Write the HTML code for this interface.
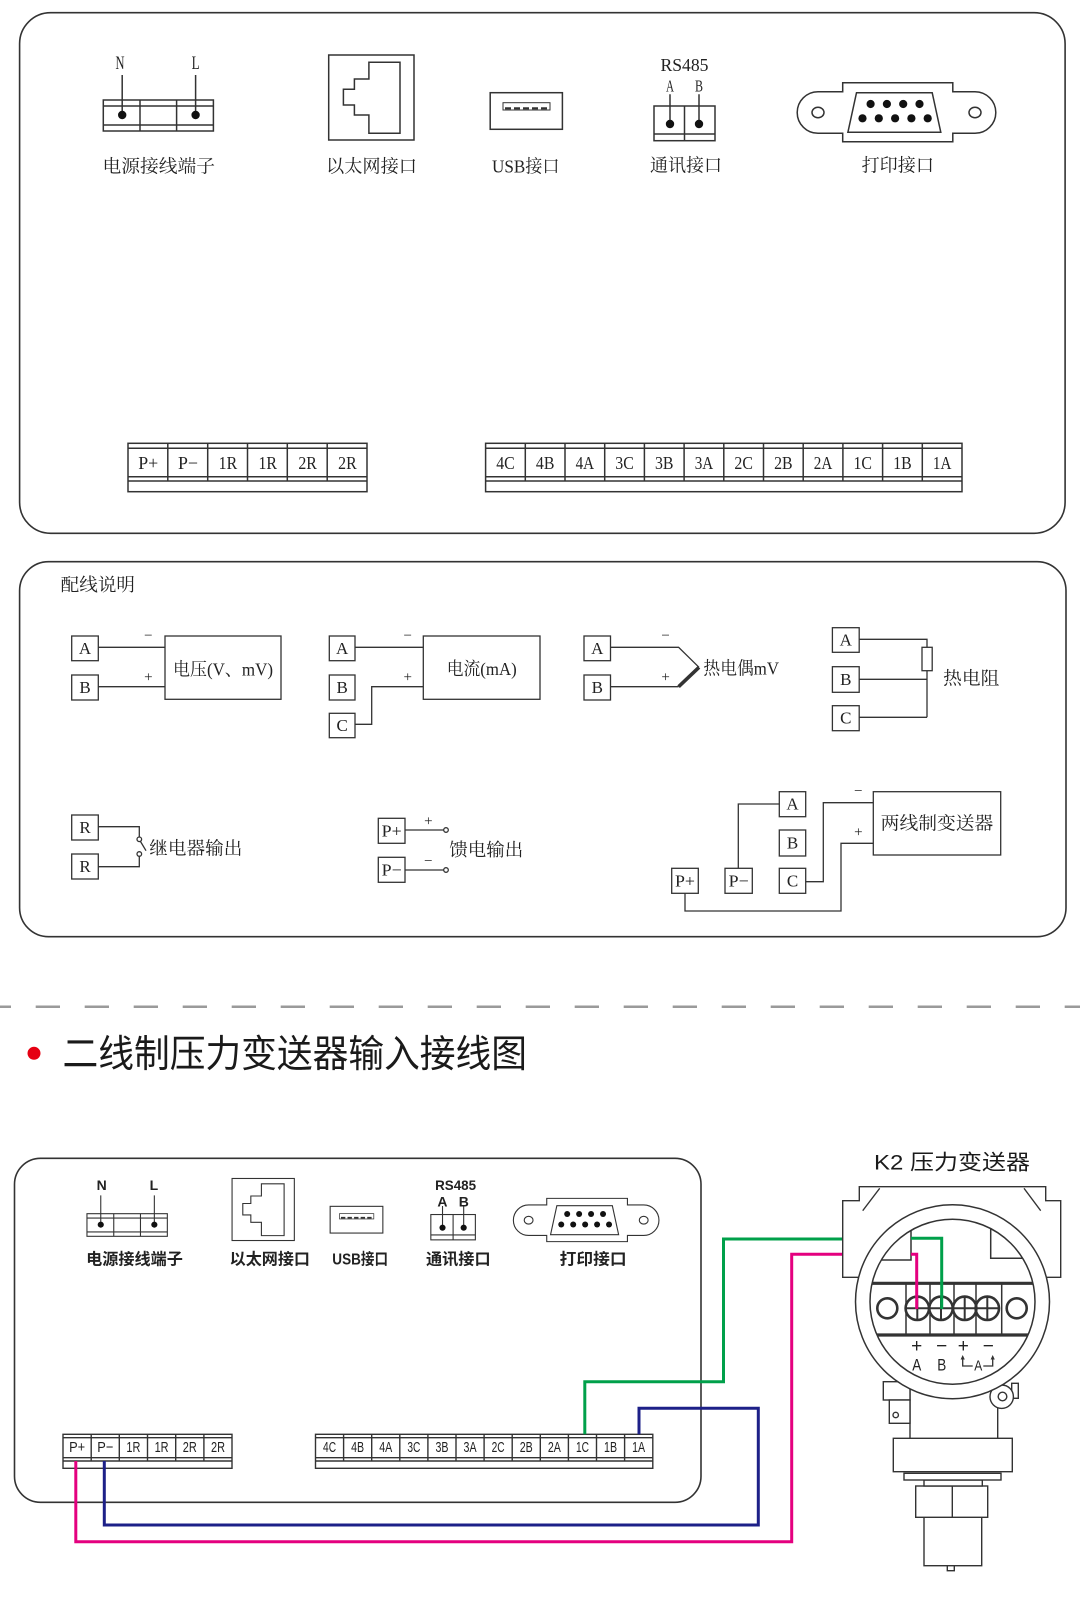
<!DOCTYPE html>
<html><head><meta charset="utf-8">
<style>
html,body{margin:0;padding:0;background:#fff;}
svg{display:block;}
.s{font-family:"Liberation Serif","Noto Serif CJK SC",serif;fill:#222;}
.a{font-family:"Liberation Sans Narrow","Liberation Sans","Noto Sans CJK SC",sans-serif;fill:#222;}
.h{font-family:"Liberation Sans","Noto Sans CJK SC",sans-serif;fill:#1a1a1a;}
</style></head><body>
<svg width="1080" height="1597" viewBox="0 0 1080 1597" xmlns="http://www.w3.org/2000/svg">
<defs>
<g id="pw" fill="none" stroke="#333" stroke-width="1.5">
 <rect x="103.3" y="100" width="110.1" height="31"/>
 <path d="M103.3 106H213.4M103.3 125H213.4M140 100V131M176.6 100V131M122.2 75V115M195.6 75V115"/>
 <circle cx="122.2" cy="115" r="4.2" fill="#111" stroke="none"/>
 <circle cx="195.6" cy="115" r="4.2" fill="#111" stroke="none"/>
</g>
<g id="eth" fill="none" stroke="#333" stroke-width="1.5">
 <rect x="328.7" y="55" width="85.3" height="85"/>
 <path d="M368.9 62.3H400V133.3H368.9V115H354.4V105H343.4V89.3H354.4V79H368.9Z"/>
</g>
<g id="usb" fill="none" stroke="#333" stroke-width="1.5">
 <rect x="490.2" y="92.7" width="72.2" height="36.6"/>
 <rect x="503" y="102.7" width="47" height="7.3" stroke-width="1"/>
 <path d="M505 108.3H548" stroke-width="2.2" stroke-dasharray="6 3"/>
</g>
<g id="rs" fill="none" stroke="#333" stroke-width="1.5">
 <rect x="654" y="106" width="61" height="34.7"/>
 <path d="M654 134H715M684.5 106V140.7M670 94.3V124M699 94.3V124"/>
 <circle cx="670" cy="124" r="4.2" fill="#111" stroke="none"/>
 <circle cx="699" cy="124" r="4.2" fill="#111" stroke="none"/>
</g>
<g id="db9" fill="none" stroke="#333" stroke-width="1.5">
 <path d="M842.7 82.7H952.8V91.7H975A20.8 20.8 0 0 1 975 133.3H952.8V141.7H842.7V133.3H818A20.8 20.8 0 0 1 818 91.7H842.7Z"/>
 <ellipse cx="818" cy="112.5" rx="6" ry="5.3"/>
 <ellipse cx="975" cy="112.5" rx="6" ry="5.3"/>
 <path d="M856.5 92.7H932.2L940.8 132.3H847.9Z"/>
 <g fill="#111" stroke="none">
  <circle cx="870.6" cy="104" r="4.1"/><circle cx="886.9" cy="104" r="4.1"/><circle cx="903.2" cy="104" r="4.1"/><circle cx="919.5" cy="104" r="4.1"/>
  <circle cx="862.5" cy="118.3" r="4.1"/><circle cx="878.8" cy="118.3" r="4.1"/><circle cx="895.1" cy="118.3" r="4.1"/><circle cx="911.4" cy="118.3" r="4.1"/><circle cx="927.7" cy="118.3" r="4.1"/>
 </g>
</g>
<clipPath id="ic"><circle cx="952.5" cy="1301.7" r="82.5"/></clipPath>
</defs>

<!-- ===== Box 1 ===== -->
<rect x="19.6" y="12.7" width="1045.5" height="520.6" rx="31" fill="none" stroke="#333" stroke-width="1.6"/>
<use href="#pw"/>
<use href="#eth"/>
<use href="#usb"/>
<use href="#rs"/>
<use href="#db9"/>
<g class="s" font-size="19" text-anchor="middle" dominant-baseline="central">
 <text x="120" y="63.3" textLength="9" lengthAdjust="spacingAndGlyphs">N</text>
 <text x="195.6" y="63.3" textLength="8" lengthAdjust="spacingAndGlyphs">L</text>
 <text x="684.5" y="65" font-size="18" textLength="48" lengthAdjust="spacingAndGlyphs">RS485</text>
 <text x="670" y="86" font-size="17" textLength="8" lengthAdjust="spacingAndGlyphs">A</text>
 <text x="699" y="86" font-size="17" textLength="8" lengthAdjust="spacingAndGlyphs">B</text>
</g>
<g class="s" font-size="18" dominant-baseline="central">
 <text x="102.5" y="166.7" textLength="112.5" lengthAdjust="spacingAndGlyphs">电源接线端子</text>
 <text x="326" y="166.7" textLength="91" lengthAdjust="spacingAndGlyphs">以太网接口</text>
 <text x="492" y="166.7" textLength="67.5" lengthAdjust="spacingAndGlyphs">USB接口</text>
 <text x="650" y="165.7" textLength="72" lengthAdjust="spacingAndGlyphs">通讯接口</text>
 <text x="861.6" y="165.7" textLength="72.3" lengthAdjust="spacingAndGlyphs">打印接口</text>
</g>
<!-- terminals top -->
<g fill="none" stroke="#333" stroke-width="1.5">
 <rect x="128" y="443.3" width="239" height="48.4"/>
 <path d="M128 448.3H367M128 476.7H367M128 481H367M167.8 443.3V481M207.7 443.3V481M247.5 443.3V481M287.3 443.3V481M327.2 443.3V481"/>
 <rect x="485.6" y="443.3" width="476.4" height="48.4"/>
 <path d="M485.6 448.3H962M485.6 476.7H962M485.6 481H962M525.3 443.3V481M565 443.3V481M604.7 443.3V481M644.4 443.3V481M684.1 443.3V481M723.8 443.3V481M763.5 443.3V481M803.2 443.3V481M842.9 443.3V481M882.6 443.3V481M922.3 443.3V481"/>
</g>
<g class="s" font-size="18" text-anchor="middle" dominant-baseline="central">
 <text x="148.2" y="463" textLength="20" lengthAdjust="spacingAndGlyphs">P+</text>
 <text x="188" y="463" textLength="20" lengthAdjust="spacingAndGlyphs">P−</text>
 <text x="227.9" y="463" textLength="18.5" lengthAdjust="spacingAndGlyphs">1R</text>
 <text x="267.7" y="463" textLength="18.5" lengthAdjust="spacingAndGlyphs">1R</text>
 <text x="307.6" y="463" textLength="18.5" lengthAdjust="spacingAndGlyphs">2R</text>
 <text x="347.4" y="463" textLength="18.5" lengthAdjust="spacingAndGlyphs">2R</text>
 <text x="505.45" y="463" textLength="18.5" lengthAdjust="spacingAndGlyphs">4C</text>
 <text x="545.15" y="463" textLength="18.5" lengthAdjust="spacingAndGlyphs">4B</text>
 <text x="584.85" y="463" textLength="18.5" lengthAdjust="spacingAndGlyphs">4A</text>
 <text x="624.55" y="463" textLength="18.5" lengthAdjust="spacingAndGlyphs">3C</text>
 <text x="664.25" y="463" textLength="18.5" lengthAdjust="spacingAndGlyphs">3B</text>
 <text x="703.95" y="463" textLength="18.5" lengthAdjust="spacingAndGlyphs">3A</text>
 <text x="743.65" y="463" textLength="18.5" lengthAdjust="spacingAndGlyphs">2C</text>
 <text x="783.35" y="463" textLength="18.5" lengthAdjust="spacingAndGlyphs">2B</text>
 <text x="823.05" y="463" textLength="18.5" lengthAdjust="spacingAndGlyphs">2A</text>
 <text x="862.75" y="463" textLength="18.5" lengthAdjust="spacingAndGlyphs">1C</text>
 <text x="902.45" y="463" textLength="18.5" lengthAdjust="spacingAndGlyphs">1B</text>
 <text x="942.15" y="463" textLength="18.5" lengthAdjust="spacingAndGlyphs">1A</text>
</g>

<!-- ===== Box 2 ===== -->
<rect x="19.6" y="561.7" width="1046.4" height="375" rx="29" fill="none" stroke="#333" stroke-width="1.6"/>
<g fill="none" stroke="#333" stroke-width="1.3">
 <rect x="71.7" y="636" width="26.6" height="24.7"/><rect x="71.7" y="675" width="26.6" height="25"/>
 <path d="M98.3 647.3H165M98.3 686.7H165"/>
 <rect x="165" y="636" width="116" height="63.3"/>
 <rect x="329.3" y="636" width="25.7" height="24.7"/><rect x="329.3" y="675" width="25.7" height="25"/><rect x="329.3" y="713.3" width="25.7" height="24.4"/>
 <path d="M355 647.3H423.3M355 724.3H371.7V686.7H423.3"/>
 <rect x="423.3" y="636" width="116.7" height="63.3"/>
 <rect x="584" y="636" width="26.5" height="24.7"/><rect x="584" y="675" width="26.5" height="25"/>
 <path d="M610.5 647.3H678.6L699 667.3M610.5 686.7H678.6"/>
 <path d="M678.6 686.7L699 667.3" stroke-width="3.6"/>
 <rect x="832.4" y="627.7" width="26.8" height="24.6"/><rect x="832.4" y="666.7" width="26.8" height="25.6"/><rect x="832.4" y="705.7" width="26.8" height="25"/>
 <path d="M859.2 639.3H927V647.3M927 670.7V717.3M859.2 679.3H927M859.2 717.3H927"/>
 <rect x="922" y="647.3" width="10.2" height="23.4"/>
 <rect x="71.7" y="815" width="26.6" height="25"/><rect x="71.7" y="854" width="26.6" height="25"/>
 <path d="M98.3 826.7H139.3V837M139.3 856.3V866.7H98.3M140.5 841.5L146 850.7"/>
 <circle cx="139.3" cy="839.3" r="2.3"/><circle cx="139.3" cy="854" r="2.3"/>
 <rect x="378.3" y="818.3" width="26.7" height="25"/><rect x="378.3" y="857.3" width="26.7" height="25"/>
 <path d="M405 830H443.7M405 870H443.7"/>
 <circle cx="446" cy="830" r="2.3"/><circle cx="446" cy="870" r="2.3"/>
 <rect x="779.3" y="791.7" width="26.4" height="25"/><rect x="779.3" y="830" width="26.4" height="26"/><rect x="779.3" y="868.3" width="26.4" height="25"/>
 <rect x="671.7" y="868.3" width="26.6" height="25"/><rect x="725" y="868.3" width="27.3" height="25"/>
 <path d="M779.3 804H738.3V868.3M805.7 881.7H823.3V802.7H873.3M685 893.3V911H841V843.3H873.3"/>
 <rect x="873.3" y="791.7" width="127.4" height="63.3"/>
</g>
<g class="s" font-size="17" text-anchor="middle" dominant-baseline="central">
 <text x="85" y="648.3">A</text><text x="85" y="687.5">B</text>
 <text x="342.2" y="648.3">A</text><text x="342.2" y="687.5">B</text><text x="342.2" y="725.5">C</text>
 <text x="597.3" y="648.3">A</text><text x="597.3" y="687.5">B</text>
 <text x="845.8" y="640">A</text><text x="845.8" y="679.5">B</text><text x="845.8" y="718.2">C</text>
 <text x="85" y="827.5">R</text><text x="85" y="866.5">R</text>
 <text x="391.7" y="830.8" textLength="20" lengthAdjust="spacingAndGlyphs">P+</text>
 <text x="391.7" y="869.8" textLength="20" lengthAdjust="spacingAndGlyphs">P−</text>
 <text x="792.5" y="804.2">A</text><text x="792.5" y="843">B</text><text x="792.5" y="880.8">C</text>
 <text x="685" y="880.8" textLength="20" lengthAdjust="spacingAndGlyphs">P+</text>
 <text x="738.7" y="880.8" textLength="20" lengthAdjust="spacingAndGlyphs">P−</text>
</g>
<g class="s" font-size="15" text-anchor="middle" dominant-baseline="central">
 <text x="148.3" y="636">−</text><text x="148.3" y="677.3">+</text>
 <text x="407.7" y="636">−</text><text x="407.7" y="677.3">+</text>
 <text x="665.6" y="636">−</text><text x="665.6" y="677.3">+</text>
 <text x="428.3" y="821.7">+</text><text x="428.3" y="861.7">−</text>
 <text x="858.3" y="791.7">−</text><text x="858.3" y="832.3">+</text>
</g>
<g class="s" font-size="18" dominant-baseline="central">
 <text x="60.7" y="585" textLength="74.3" lengthAdjust="spacingAndGlyphs">配线说明</text>
 <text x="173" y="669.3" textLength="100" lengthAdjust="spacingAndGlyphs">电压(V、mV)</text>
 <text x="446.7" y="668.8" textLength="70" lengthAdjust="spacingAndGlyphs">电流(mA)</text>
 <text x="703.4" y="668.3" textLength="75.6" lengthAdjust="spacingAndGlyphs">热电偶mV</text>
 <text x="943.2" y="678.3" textLength="56.2" lengthAdjust="spacingAndGlyphs">热电阻</text>
 <text x="149.3" y="848.3" textLength="93" lengthAdjust="spacingAndGlyphs">继电器输出</text>
 <text x="449.3" y="850" textLength="74" lengthAdjust="spacingAndGlyphs">馈电输出</text>
 <text x="880.7" y="823.3" textLength="112.6" lengthAdjust="spacingAndGlyphs">两线制变送器</text>
</g>

<!-- ===== Divider and title ===== -->
<path d="M0 1006.7H1080" stroke="#9a9a9a" stroke-width="2.5" stroke-dasharray="24.3 24.7" stroke-dashoffset="13.3"/>
<circle cx="34" cy="1053.3" r="6.5" fill="#e60012"/>
<text class="h" x="62.5" y="1055" font-size="38" dominant-baseline="central" textLength="464.5" lengthAdjust="spacingAndGlyphs">二线制压力变送器输入接线图</text>

<!-- ===== Box 3 ===== -->
<rect x="14.5" y="1158.3" width="686.5" height="344" rx="26" fill="none" stroke="#333" stroke-width="1.6"/>
<use href="#pw" transform="translate(127.15,1225) scale(0.73) translate(-158.35,-115.5)"/>
<use href="#eth" transform="translate(263.2,1209.5) scale(0.73) translate(-371.35,-97.5)"/>
<use href="#usb" transform="translate(356.5,1219.7) scale(0.73) translate(-526.3,-111)"/>
<use href="#rs" transform="translate(453.1,1227.2) scale(0.73) translate(-684.5,-123.35)"/>
<use href="#db9" transform="translate(588,1220) scale(0.733) translate(-899,-112.2)"/>
<g class="a" font-weight="bold" font-size="14" text-anchor="middle" dominant-baseline="central">
 <text x="101.7" y="1185">N</text>
 <text x="153.9" y="1185">L</text>
 <text x="455.6" y="1185" textLength="41" lengthAdjust="spacingAndGlyphs">RS485</text>
 <text x="442.4" y="1201.7">A</text>
 <text x="463.8" y="1201.7">B</text>
</g>
<g class="a" font-weight="bold" font-size="16" dominant-baseline="central">
 <text x="86.1" y="1260" textLength="96.8" lengthAdjust="spacingAndGlyphs">电源接线端子</text>
 <text x="229.7" y="1260" textLength="80.3" lengthAdjust="spacingAndGlyphs">以太网接口</text>
 <text x="332.3" y="1260" textLength="55.7" lengthAdjust="spacingAndGlyphs">USB接口</text>
 <text x="426" y="1260" textLength="64.6" lengthAdjust="spacingAndGlyphs">通讯接口</text>
 <text x="559.7" y="1260" textLength="66.9" lengthAdjust="spacingAndGlyphs">打印接口</text>
</g>
<!-- bottom terminals -->
<g fill="none" stroke="#333" stroke-width="1.4">
 <rect x="63" y="1434.3" width="169" height="34"/>
 <path d="M63 1437.7H232M63 1457.7H232M63 1461H232M91.2 1434.3V1461M119.3 1434.3V1461M147.5 1434.3V1461M175.7 1434.3V1461M203.9 1434.3V1461"/>
 <rect x="315.5" y="1434.3" width="337.3" height="34"/>
 <path d="M315.5 1437.7H652.8M315.5 1457.7H652.8M315.5 1461H652.8M343.6 1434.3V1461M371.7 1434.3V1461M399.8 1434.3V1461M427.9 1434.3V1461M456 1434.3V1461M484.1 1434.3V1461M512.2 1434.3V1461M540.3 1434.3V1461M568.4 1434.3V1461M596.5 1434.3V1461M624.6 1434.3V1461"/>
</g>
<g class="a" font-size="15" text-anchor="middle" dominant-baseline="central">
 <text x="77.1" y="1447.7" textLength="16" lengthAdjust="spacingAndGlyphs">P+</text>
 <text x="105.3" y="1447.7" textLength="16" lengthAdjust="spacingAndGlyphs">P−</text>
 <text x="133.4" y="1447.7" textLength="14" lengthAdjust="spacingAndGlyphs">1R</text>
 <text x="161.6" y="1447.7" textLength="14" lengthAdjust="spacingAndGlyphs">1R</text>
 <text x="189.8" y="1447.7" textLength="14" lengthAdjust="spacingAndGlyphs">2R</text>
 <text x="218" y="1447.7" textLength="14" lengthAdjust="spacingAndGlyphs">2R</text>
 <text x="329.55" y="1447.7" textLength="13" lengthAdjust="spacingAndGlyphs">4C</text>
 <text x="357.65" y="1447.7" textLength="13" lengthAdjust="spacingAndGlyphs">4B</text>
 <text x="385.75" y="1447.7" textLength="13" lengthAdjust="spacingAndGlyphs">4A</text>
 <text x="413.85" y="1447.7" textLength="13" lengthAdjust="spacingAndGlyphs">3C</text>
 <text x="441.95" y="1447.7" textLength="13" lengthAdjust="spacingAndGlyphs">3B</text>
 <text x="470.05" y="1447.7" textLength="13" lengthAdjust="spacingAndGlyphs">3A</text>
 <text x="498.15" y="1447.7" textLength="13" lengthAdjust="spacingAndGlyphs">2C</text>
 <text x="526.25" y="1447.7" textLength="13" lengthAdjust="spacingAndGlyphs">2B</text>
 <text x="554.35" y="1447.7" textLength="13" lengthAdjust="spacingAndGlyphs">2A</text>
 <text x="582.45" y="1447.7" textLength="13" lengthAdjust="spacingAndGlyphs">1C</text>
 <text x="610.55" y="1447.7" textLength="13" lengthAdjust="spacingAndGlyphs">1B</text>
 <text x="638.65" y="1447.7" textLength="13" lengthAdjust="spacingAndGlyphs">1A</text>
</g>
<!-- wires -->
<g fill="none" stroke-width="3" stroke-linejoin="miter">
 <path d="M75.8 1461V1541.7H791.7V1254.2H843" stroke="#e4007f"/>
 <path d="M584.8 1434.3V1381.7H723.5V1239H843" stroke="#00a04a"/>
 <path d="M639 1434.3V1408.3H758.3V1525H104.3V1461" stroke="#1d2088"/>
</g>

<!-- ===== Transmitter ===== -->
<text class="h" x="874" y="1163" font-size="21" dominant-baseline="central" textLength="156" lengthAdjust="spacingAndGlyphs">K2 压力变送器</text>
<g fill="#fff" stroke="#333" stroke-width="1.4">
 <rect x="924" y="1517.3" width="57.7" height="48.4"/>
 <rect x="947.3" y="1565.7" width="7" height="5"/>
 <rect x="915.7" y="1486" width="72" height="31.3"/>
 <path d="M952.3 1486V1517.3" fill="none"/>
 <rect x="924" y="1480" width="58.3" height="6"/>
 <rect x="904" y="1473.3" width="97" height="6.7"/>
 <rect x="893.3" y="1438.3" width="119" height="33.4"/>
 <rect x="910" y="1375" width="87.7" height="63.3"/>
 <rect x="883.3" y="1381.7" width="26.7" height="18.3"/>
 <rect x="889.3" y="1400" width="20.7" height="23.3"/>
 <circle cx="895.7" cy="1415" r="2.7"/>
 <rect x="1011.7" y="1383.3" width="6.6" height="15"/>
 <circle cx="1001.7" cy="1396.7" r="11.7"/>
 <circle cx="1002.5" cy="1396.5" r="4.3"/>
 <path d="M842.7 1200.7H859.3V1186.7H1045.7V1200.7H1060.7V1277.3H842.7Z"/>
</g>
<path d="M862.7 1210.7L879.7 1188.3M1024 1188.3L1040.7 1210.7" stroke="#333" stroke-width="1.3" fill="none"/>
<circle cx="952.5" cy="1301.7" r="97" fill="#fff" stroke="#333" stroke-width="1.5"/>
<circle cx="952.5" cy="1301.7" r="82.5" fill="#fff" stroke="#333" stroke-width="1.5"/>
<g clip-path="url(#ic)" fill="none" stroke="#333">
 <path d="M911 1215V1260H860M990.7 1215V1258.3H1045" stroke-width="1.5"/>
 <path d="M860 1283.3H1045M860 1335H1045" stroke-width="3.2"/>
 <path d="M906 1283.3V1335M930 1283.3V1335M954 1283.3V1335M976 1283.3V1335M1001.7 1283.3V1335" stroke-width="1.5"/>
 <g fill="#fff" stroke="none">
  <circle cx="917.3" cy="1308.3" r="11.7"/><circle cx="941" cy="1308.3" r="11.7"/><circle cx="964.7" cy="1308.3" r="11.7"/><circle cx="987.3" cy="1308.3" r="11.7"/>
 </g>
 <g stroke-width="2.6">
  <circle cx="887.3" cy="1308.3" r="10"/><circle cx="1016.7" cy="1308.3" r="10"/>
  <circle cx="917.3" cy="1308.3" r="11.7"/><circle cx="941" cy="1308.3" r="11.7"/><circle cx="964.7" cy="1308.3" r="11.7"/><circle cx="987.3" cy="1308.3" r="11.7"/>
 </g>
 <path d="M905.6 1308.3H999M917.3 1296.6V1320M941 1296.6V1320M964.7 1296.6V1320M987.3 1296.6V1320" stroke-width="2"/>
 <path d="M911 1254.2H916.7V1309" stroke="#e4007f" stroke-width="3"/>
 <path d="M911 1238.3H941.7V1309" stroke="#00a04a" stroke-width="3"/>
</g>
<g class="a" font-size="19" text-anchor="middle" dominant-baseline="central">
 <text x="916.7" y="1346.7">+</text>
 <text x="941.7" y="1346.7">−</text>
 <text x="963.3" y="1346.7">+</text>
 <text x="988.3" y="1346.7">−</text>
</g>
<g class="a" font-size="17" text-anchor="middle" dominant-baseline="central">
 <text x="916.7" y="1365" textLength="9" lengthAdjust="spacingAndGlyphs">A</text>
 <text x="941.7" y="1365" textLength="9" lengthAdjust="spacingAndGlyphs">B</text>
 <text x="978.3" y="1366" font-size="15" textLength="8" lengthAdjust="spacingAndGlyphs">A</text>
</g>
<path d="M962.7 1358V1366H972.7M983.3 1366H992.7V1358" fill="none" stroke="#333" stroke-width="1.3"/>
<path d="M960.6 1359.5L962.7 1355L964.8 1359.5ZM990.6 1359.5L992.7 1355L994.8 1359.5Z" fill="#333"/>
</svg>
</body></html>
